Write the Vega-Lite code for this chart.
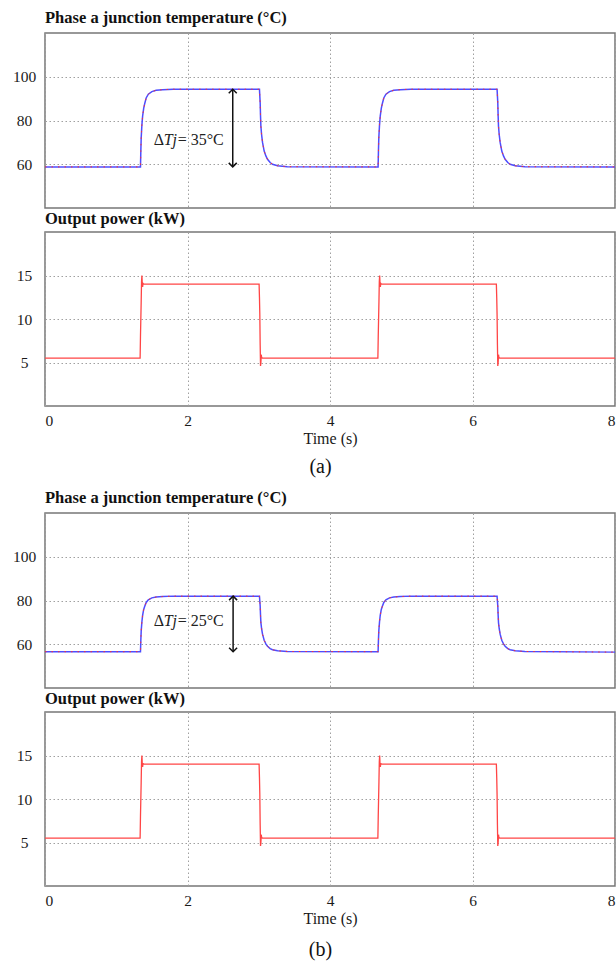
{
  "$schema": "https://vega.github.io/schema/vega-lite/v6.json",
  "background": "white",
  "padding": {"left": 4, "top": 8, "right": 0, "bottom": 0},
  "spacing": 10,
  "config": {
    "font": "Liberation Serif",
    "view": {"stroke": "#777777", "strokeWidth": 1.5},
    "axis": {
      "labelFont": "Liberation Serif", "labelFontSize": 15.5, "labelColor": "#1a1a1a",
      "titleFont": "Liberation Serif", "titleFontSize": 16, "titleFontWeight": "normal", "titleColor": "#1a1a1a",
      "grid": true, "gridColor": "#a0a0a0", "gridDash": [1.5, 2.5], "gridWidth": 1,
      "domain": false, "ticks": false, "tickSize": 0
    },
    "axisY": {"labelAlign": "center", "labelPadding": 21, "minExtent": 40, "maxExtent": 40},
    "axisX": {"labelPadding": 7, "titlePadding": 2, "labelFlush": true},
    "title": {"font": "Liberation Serif", "fontSize": 16.5, "fontWeight": "bold", "anchor": "start", "frame": "group", "color": "#111111", "baseline": "alphabetic"}
  },
  "datasets": {
    "tempA": [
      {"t":0,"T":58.8},{"t":1.34,"T":58.8},{"t":1.345,"T":66},{"t":1.35,"T":72},{"t":1.36,"T":78},{"t":1.37,"T":82},{"t":1.385,"T":85.5},{"t":1.4,"T":87.8},{"t":1.42,"T":90.3},{"t":1.45,"T":92.0},{"t":1.5,"T":93.2},{"t":1.56,"T":93.8},{"t":1.65,"T":94.1},{"t":1.8,"T":94.3},{"t":3.01,"T":94.3},
      {"t":3.02,"T":88},{"t":3.025,"T":82},{"t":3.03,"T":77.4},{"t":3.04,"T":73.5},{"t":3.053,"T":70},{"t":3.076,"T":66},{"t":3.1,"T":63.8},{"t":3.123,"T":62.3},{"t":3.16,"T":60.8},{"t":3.193,"T":60.0},{"t":3.264,"T":59.3},{"t":3.4,"T":58.9},{"t":4.675,"T":58.8},
      {"t":4.68,"T":66},{"t":4.685,"T":72},{"t":4.695,"T":78},{"t":4.705,"T":82},{"t":4.72,"T":85.5},{"t":4.735,"T":87.8},{"t":4.755,"T":90.3},{"t":4.785,"T":92.0},{"t":4.835,"T":93.2},{"t":4.895,"T":93.8},{"t":4.985,"T":94.1},{"t":5.135,"T":94.3},{"t":6.345,"T":94.3},
      {"t":6.355,"T":88},{"t":6.36,"T":82},{"t":6.365,"T":77.4},{"t":6.375,"T":73.5},{"t":6.388,"T":70},{"t":6.411,"T":66},{"t":6.435,"T":63.8},{"t":6.458,"T":62.3},{"t":6.495,"T":60.8},{"t":6.528,"T":60.0},{"t":6.599,"T":59.3},{"t":6.735,"T":58.9},{"t":8,"T":58.8}
    ],
    "tempB": [
      {"t":0,"T":56.6},{"t":1.34,"T":56.6},{"t":1.345,"T":61.8},{"t":1.35,"T":66.0},{"t":1.36,"T":70.3},{"t":1.37,"T":73.2},{"t":1.385,"T":75.9},{"t":1.4,"T":77.4},{"t":1.42,"T":79.1},{"t":1.45,"T":80.3},{"t":1.5,"T":81.2},{"t":1.56,"T":81.6},{"t":1.65,"T":81.8},{"t":1.8,"T":82.0},{"t":3.01,"T":82.0},
      {"t":3.02,"T":77.5},{"t":3.025,"T":73.2},{"t":3.03,"T":69.9},{"t":3.04,"T":67.1},{"t":3.053,"T":64.6},{"t":3.076,"T":61.8},{"t":3.1,"T":60.2},{"t":3.123,"T":59.1},{"t":3.16,"T":58.0},{"t":3.193,"T":57.5},{"t":3.264,"T":57.0},{"t":3.4,"T":56.7},{"t":4.675,"T":56.6},
      {"t":4.68,"T":61.8},{"t":4.685,"T":66.0},{"t":4.695,"T":70.3},{"t":4.705,"T":73.2},{"t":4.72,"T":75.9},{"t":4.735,"T":77.4},{"t":4.755,"T":79.1},{"t":4.785,"T":80.3},{"t":4.835,"T":81.2},{"t":4.895,"T":81.6},{"t":4.985,"T":81.8},{"t":5.135,"T":82.0},{"t":6.345,"T":82.0},
      {"t":6.355,"T":77.5},{"t":6.36,"T":73.2},{"t":6.365,"T":69.9},{"t":6.375,"T":67.1},{"t":6.388,"T":64.6},{"t":6.411,"T":61.8},{"t":6.435,"T":60.2},{"t":6.458,"T":59.1},{"t":6.495,"T":58.0},{"t":6.528,"T":57.5},{"t":6.599,"T":57.0},{"t":6.735,"T":56.7},{"t":8,"T":56.4}
    ],
    "power": [
      {"t":0,"P":5.5},{"t":1.335,"P":5.5},{"t":1.34,"P":8},{"t":1.35,"P":12},{"t":1.355,"P":14.3},{"t":1.36,"P":15.0},{"t":1.363,"P":14.5},{"t":1.365,"P":13.9},{"t":1.37,"P":13.7},{"t":1.375,"P":14.1},{"t":1.385,"P":14.0},{"t":3.005,"P":14.0},
      {"t":3.01,"P":12.5},{"t":3.015,"P":10.5},{"t":3.02,"P":7},{"t":3.025,"P":4.6},{"t":3.03,"P":5.0},{"t":3.035,"P":5.9},{"t":3.04,"P":5.6},{"t":3.05,"P":5.5},{"t":4.672,"P":5.5},
      {"t":4.677,"P":8},{"t":4.687,"P":12},{"t":4.692,"P":14.3},{"t":4.697,"P":15.0},{"t":4.7,"P":14.5},{"t":4.702,"P":13.9},{"t":4.707,"P":13.7},{"t":4.712,"P":14.1},{"t":4.722,"P":14.0},{"t":6.335,"P":14.0},
      {"t":6.34,"P":12.5},{"t":6.345,"P":10.5},{"t":6.35,"P":7},{"t":6.355,"P":4.6},{"t":6.36,"P":5.0},{"t":6.365,"P":5.9},{"t":6.37,"P":5.6},{"t":6.38,"P":5.5},{"t":8,"P":5.5}
    ],
    "arrowA": [{"t":2.635,"top":94.3,"bottom":58.8}],
    "arrowB": [{"t":2.64,"top":82.0,"bottom":56.6}],
    "labelA": [{"t":1.525,"v":71.3,"delta":"Δ","sym":"Tj","rest":"= 35°C"}],
    "labelB": [{"t":1.525,"v":70.8,"delta":"Δ","sym":"Tj","rest":"= 25°C"}]
  },
  "vconcat": [
    {
      "spacing": 0,
      "title": {"text": "(a)", "orient": "bottom", "anchor": "middle", "frame": "bounds", "fontSize": 20, "fontWeight": "normal", "baseline": "top", "offset": 10, "dx": 9},
      "vconcat": [
        {
          "width": 570, "height": 175,
          "title": {"text": "Phase a junction temperature (°C)", "offset": 7},
          "layer": [
            {"data": {"name": "tempA"}, "mark": {"type": "line", "color": "#4d4dff", "strokeWidth": 1.5},
             "encoding": {
               "x": {"field": "t", "type": "quantitative", "scale": {"domain": [0, 8]}, "axis": {"values": [0, 2, 4, 6, 8], "labels": false, "title": null}},
               "y": {"field": "T", "type": "quantitative", "scale": {"domain": [40, 120]}, "axis": {"values": [60, 80, 100], "title": null}}}},
            {"data": {"name": "tempA"}, "mark": {"type": "line", "color": "#ff3030", "strokeWidth": 1, "strokeDash": [1.5, 5]},
             "encoding": {"x": {"field": "t", "type": "quantitative"}, "y": {"field": "T", "type": "quantitative"}}},
            {"data": {"name": "arrowA"}, "mark": {"type": "rule", "color": "#111111", "strokeWidth": 1.5},
             "encoding": {"x": {"field": "t", "type": "quantitative"}, "y": {"field": "bottom", "type": "quantitative"}, "y2": {"field": "top"}}},
            {"data": {"name": "arrowA"}, "mark": {"type": "point", "shape": "M-1,1L0,0L1,1", "size": 64, "filled": false, "color": "#111111", "strokeWidth": 1.5, "opacity": 1},
             "encoding": {"x": {"field": "t", "type": "quantitative"}, "y": {"field": "top", "type": "quantitative"}}},
            {"data": {"name": "arrowA"}, "mark": {"type": "point", "shape": "M-1,-1L0,0L1,-1", "size": 64, "filled": false, "color": "#111111", "strokeWidth": 1.5, "opacity": 1},
             "encoding": {"x": {"field": "t", "type": "quantitative"}, "y": {"field": "bottom", "type": "quantitative"}}},
            {"data": {"name": "labelA"}, "mark": {"type": "text", "align": "left", "baseline": "middle", "fontSize": 16, "color": "#222222"},
             "encoding": {"x": {"field": "t", "type": "quantitative"}, "y": {"field": "v", "type": "quantitative"}, "text": {"field": "delta"}}},
            {"data": {"name": "labelA"}, "mark": {"type": "text", "align": "left", "baseline": "middle", "fontSize": 16, "fontStyle": "italic", "color": "#222222", "dx": 10},
             "encoding": {"x": {"field": "t", "type": "quantitative"}, "y": {"field": "v", "type": "quantitative"}, "text": {"field": "sym"}}},
            {"data": {"name": "labelA"}, "mark": {"type": "text", "align": "left", "baseline": "middle", "fontSize": 16, "color": "#222222", "dx": 24},
             "encoding": {"x": {"field": "t", "type": "quantitative"}, "y": {"field": "v", "type": "quantitative"}, "text": {"field": "rest"}}}
          ]
        },
        {
          "width": 570, "height": 174,
          "title": {"text": "Output power (kW)", "offset": 5},
          "data": {"name": "power"},
          "mark": {"type": "line", "color": "#ff4545", "strokeWidth": 1.3},
          "encoding": {
            "x": {"field": "t", "type": "quantitative", "scale": {"domain": [0, 8]}, "axis": {"values": [0, 2, 4, 6, 8], "title": "Time (s)"}},
            "y": {"field": "P", "type": "quantitative", "scale": {"domain": [0, 20]}, "axis": {"values": [5, 10, 15], "title": null}}
          }
        }
      ]
    },
    {
      "spacing": 0,
      "title": {"text": "(b)", "orient": "bottom", "anchor": "middle", "frame": "bounds", "fontSize": 20, "fontWeight": "normal", "baseline": "top", "offset": 13, "dx": 9},
      "vconcat": [
        {
          "width": 570, "height": 175,
          "title": {"text": "Phase a junction temperature (°C)", "offset": 7},
          "layer": [
            {"data": {"name": "tempB"}, "mark": {"type": "line", "color": "#4d4dff", "strokeWidth": 1.5},
             "encoding": {
               "x": {"field": "t", "type": "quantitative", "scale": {"domain": [0, 8]}, "axis": {"values": [0, 2, 4, 6, 8], "labels": false, "title": null}},
               "y": {"field": "T", "type": "quantitative", "scale": {"domain": [40, 120]}, "axis": {"values": [60, 80, 100], "title": null}}}},
            {"data": {"name": "tempB"}, "mark": {"type": "line", "color": "#ff3030", "strokeWidth": 1, "strokeDash": [1.5, 5]},
             "encoding": {"x": {"field": "t", "type": "quantitative"}, "y": {"field": "T", "type": "quantitative"}}},
            {"data": {"name": "arrowB"}, "mark": {"type": "rule", "color": "#111111", "strokeWidth": 1.5},
             "encoding": {"x": {"field": "t", "type": "quantitative"}, "y": {"field": "bottom", "type": "quantitative"}, "y2": {"field": "top"}}},
            {"data": {"name": "arrowB"}, "mark": {"type": "point", "shape": "M-1,1L0,0L1,1", "size": 64, "filled": false, "color": "#111111", "strokeWidth": 1.5, "opacity": 1},
             "encoding": {"x": {"field": "t", "type": "quantitative"}, "y": {"field": "top", "type": "quantitative"}}},
            {"data": {"name": "arrowB"}, "mark": {"type": "point", "shape": "M-1,-1L0,0L1,-1", "size": 64, "filled": false, "color": "#111111", "strokeWidth": 1.5, "opacity": 1},
             "encoding": {"x": {"field": "t", "type": "quantitative"}, "y": {"field": "bottom", "type": "quantitative"}}},
            {"data": {"name": "labelB"}, "mark": {"type": "text", "align": "left", "baseline": "middle", "fontSize": 16, "color": "#222222"},
             "encoding": {"x": {"field": "t", "type": "quantitative"}, "y": {"field": "v", "type": "quantitative"}, "text": {"field": "delta"}}},
            {"data": {"name": "labelB"}, "mark": {"type": "text", "align": "left", "baseline": "middle", "fontSize": 16, "fontStyle": "italic", "color": "#222222", "dx": 10},
             "encoding": {"x": {"field": "t", "type": "quantitative"}, "y": {"field": "v", "type": "quantitative"}, "text": {"field": "sym"}}},
            {"data": {"name": "labelB"}, "mark": {"type": "text", "align": "left", "baseline": "middle", "fontSize": 16, "color": "#222222", "dx": 24},
             "encoding": {"x": {"field": "t", "type": "quantitative"}, "y": {"field": "v", "type": "quantitative"}, "text": {"field": "rest"}}}
          ]
        },
        {
          "width": 570, "height": 174,
          "title": {"text": "Output power (kW)", "offset": 5},
          "data": {"name": "power"},
          "mark": {"type": "line", "color": "#ff4545", "strokeWidth": 1.3},
          "encoding": {
            "x": {"field": "t", "type": "quantitative", "scale": {"domain": [0, 8]}, "axis": {"values": [0, 2, 4, 6, 8], "title": "Time (s)"}},
            "y": {"field": "P", "type": "quantitative", "scale": {"domain": [0, 20]}, "axis": {"values": [5, 10, 15], "title": null}}
          }
        }
      ]
    }
  ]
}
